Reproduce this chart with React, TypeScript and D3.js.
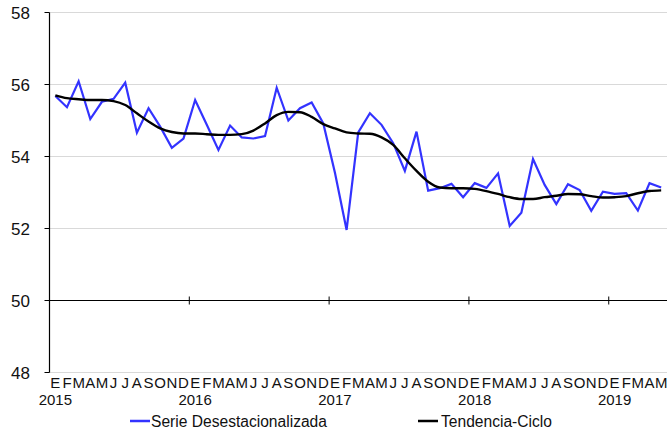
import * as d3 from "d3";

const W = 667;
const H = 431;
const margin = { top: 12.5, right: 0, bottom: 58.5, left: 49.5 };

const years = ["2015", "2016", "2017", "2018", "2019"];
const monthLetters = ["E", "F", "M", "A", "M", "J", "J", "A", "S", "O", "N", "D"];

// Serie desestacionalizada, ene-2015 .. may-2019
const serie = [
  55.68, 55.37, 56.09, 55.04, 55.52, 55.6, 56.05, 54.66, 55.34, 54.83, 54.24, 54.5,
  55.57, 54.88, 54.18, 54.86, 54.53, 54.5, 54.57, 55.91, 55.0, 55.34, 55.5, 54.92,
  53.55, 51.96, 54.67, 55.2, 54.88, 54.37, 53.6, 54.69, 53.05, 53.12, 53.24, 52.87,
  53.26, 53.13, 53.53, 52.07, 52.44, 53.93, 53.21, 52.68, 53.23, 53.07, 52.49, 53.02,
  52.96, 52.98, 52.5, 53.26, 53.14,
];

// Tendencia-ciclo
const tendencia = [
  55.7, 55.62, 55.59, 55.57, 55.57, 55.54, 55.43, 55.2, 54.97, 54.78, 54.68, 54.64,
  54.64, 54.62, 54.6, 54.6, 54.62, 54.72, 54.92, 55.15, 55.24, 55.23, 55.1, 54.9,
  54.78, 54.67, 54.64, 54.63, 54.53, 54.32, 53.95, 53.6, 53.3, 53.14, 53.12, 53.12,
  53.1, 53.04, 52.96, 52.87, 52.82, 52.82, 52.87, 52.91, 52.96, 52.95, 52.9, 52.86,
  52.87, 52.9, 52.98, 53.04, 53.06,
];

const yTicks = [48, 50, 52, 54, 56, 58];
const font = "'Liberation Sans', Arial, sans-serif";

export default function App() {
  const n = serie.length;
  const x = d3
    .scaleBand<number>()
    .domain(d3.range(n))
    .range([margin.left, W - margin.right]);
  const cx = (i: number) => (x(i) ?? 0) + x.bandwidth() / 2;
  const y = d3
    .scaleLinear()
    .domain([48, 58])
    .range([H - margin.bottom, margin.top]);

  const lineStraight = d3
    .line<number>()
    .x((_, i) => cx(i))
    .y((d) => y(d));
  const lineSmooth = d3
    .line<number>()
    .x((_, i) => cx(i))
    .y((d) => y(d))
    .curve(d3.curveMonotoneX);

  const plotBottom = H - margin.bottom;

  return (
    <svg
      width={W}
      height={H}
      style={{ position: "absolute", left: 0, top: 0, background: "#fff" }}
      fontFamily={font}
    >
      {yTicks.map((t) => (
        <line
          key={`g-${t}`}
          x1={margin.left}
          x2={W}
          y1={y(t)}
          y2={y(t)}
          stroke="#d9d9d9"
          strokeWidth={1}
        />
      ))}
      {/* eje Y */}
      <line x1={margin.left} x2={margin.left} y1={y(58)} y2={plotBottom} stroke="#000" strokeWidth={1.2} />
      {yTicks.map((t) => (
        <g key={`yt-${t}`}>
          <line x1={margin.left - 5} x2={margin.left} y1={y(t)} y2={y(t)} stroke="#000" />
          <text x={30} y={y(t)} dy="0.36em" textAnchor="end" fontSize={17} fill="#111">
            {t}
          </text>
        </g>
      ))}
      {/* eje X en 50 */}
      <line x1={margin.left} x2={W} y1={y(50)} y2={y(50)} stroke="#000" strokeWidth={1.2} />
      {years.slice(1).map((yr, k) => {
        const px = x((k + 1) * 12) ?? 0;
        return (
          <line key={`xt-${yr}`} x1={px} x2={px} y1={y(50) - 4} y2={y(50) + 4} stroke="#000" />
        );
      })}
      {d3.range(n).map((i) => (
        <text
          key={`m-${i}`}
          x={cx(i)}
          y={388}
          textAnchor="middle"
          fontSize={15}
          fill="#111"
        >
          {monthLetters[i % 12]}
        </text>
      ))}
      {years.map((yr, k) => (
        <text key={`yr-${yr}`} x={cx(k * 12)} y={405} textAnchor="middle" fontSize={15} fill="#111">
          {yr}
        </text>
      ))}
      <path d={lineStraight(serie) ?? ""} fill="none" stroke="#3333ff" strokeWidth={2.2} strokeLinejoin="miter" />
      <path d={lineSmooth(tendencia) ?? ""} fill="none" stroke="#000" strokeWidth={2.4} />
      {/* leyenda */}
      <line x1={130} x2={150} y1={421} y2={421} stroke="#3333ff" strokeWidth={2.5} />
      <text x={151} y={421} dy="0.36em" fontSize={15.6} fill="#111">
        Serie Desestacionalizada
      </text>
      <line x1={418} x2={438} y1={421} y2={421} stroke="#000" strokeWidth={2.5} />
      <text x={441} y={421} dy="0.36em" fontSize={15.6} fill="#111">
        Tendencia-Ciclo
      </text>
    </svg>
  );
}
